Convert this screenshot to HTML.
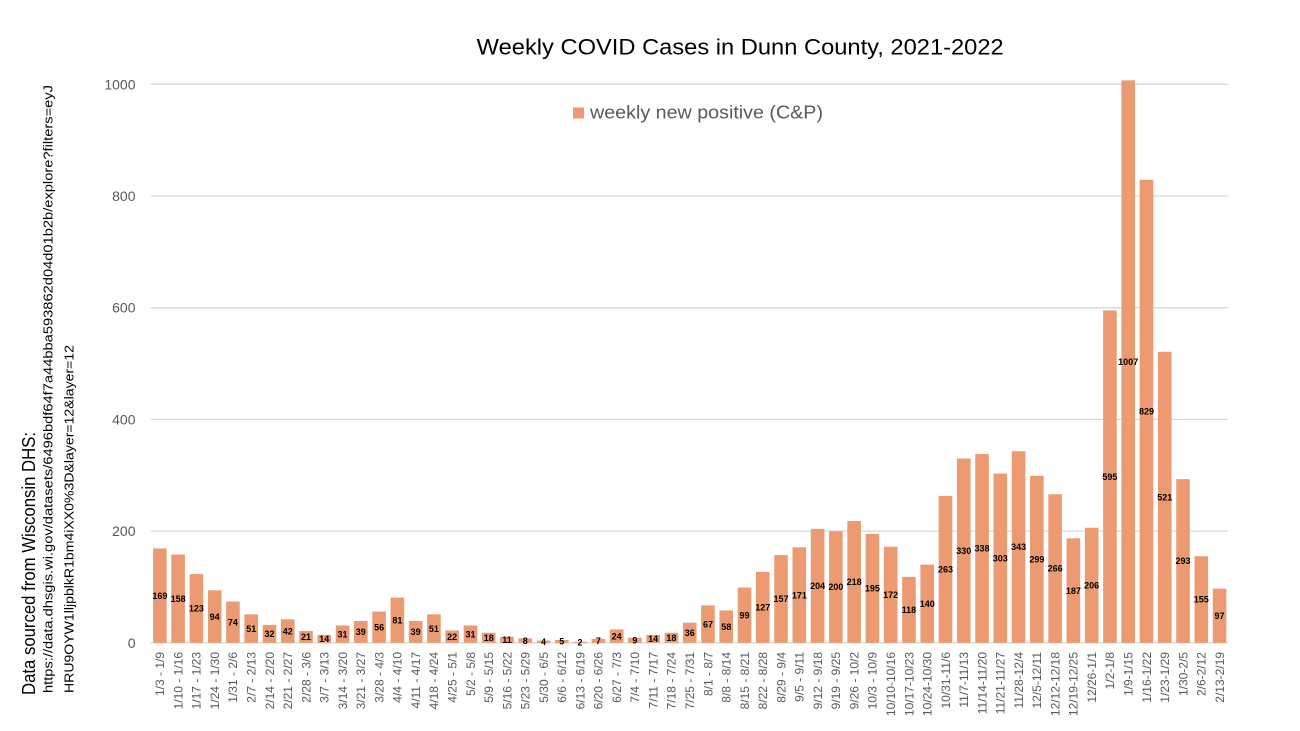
<!DOCTYPE html>
<html><head><meta charset="utf-8"><style>
html,body{margin:0;padding:0;background:#fff;}
svg{display:block;font-family:"Liberation Sans",sans-serif;}
.xl{font-size:12px;fill:#595959;text-anchor:end;}
.dl{font-size:9px;font-weight:bold;fill:#000;text-anchor:middle;}
.yl{font-size:14px;fill:#595959;text-anchor:end;}
</style></head><body>
<svg width="1300" height="731" viewBox="0 0 1300 731" xmlns="http://www.w3.org/2000/svg">
<rect width="1300" height="731" fill="#fff"/>
<text x="476.7" y="54.3" font-size="22" fill="#000" textLength="527" lengthAdjust="spacingAndGlyphs">Weekly COVID Cases in Dunn County, 2021-2022</text>
<g stroke="#D9D9D9" stroke-width="1.3">
<line x1="150.7" y1="84.3" x2="1228" y2="84.3"/>
<line x1="150.7" y1="196" x2="1228" y2="196"/>
<line x1="150.7" y1="307.7" x2="1228" y2="307.7"/>
<line x1="150.7" y1="419.4" x2="1228" y2="419.4"/>
<line x1="150.7" y1="531.1" x2="1228" y2="531.1"/>
<line x1="150.7" y1="642.8" x2="1228" y2="642.8"/>
</g>
<g class="yl">
<text x="135.5" y="89.3">1000</text>
<text x="135.5" y="201">800</text>
<text x="135.5" y="312.7">600</text>
<text x="135.5" y="424.4">400</text>
<text x="135.5" y="536.1">200</text>
<text x="135.5" y="647.8">0</text>
</g>
<rect x="573" y="107.5" width="11" height="11" fill="#EC9A72"/>
<text x="590" y="118.5" font-size="18" fill="#595959" textLength="233" lengthAdjust="spacingAndGlyphs">weekly new positive (C&amp;P)</text>
<g fill="#EC9A72">
<rect x="153.04" y="548.41" width="13.6" height="94.39"/>
<rect x="171.31" y="554.56" width="13.6" height="88.24"/>
<rect x="189.58" y="574.10" width="13.6" height="68.70"/>
<rect x="207.85" y="590.30" width="13.6" height="52.50"/>
<rect x="226.12" y="601.47" width="13.6" height="41.33"/>
<rect x="244.40" y="614.32" width="13.6" height="28.48"/>
<rect x="262.67" y="624.93" width="13.6" height="17.87"/>
<rect x="280.94" y="619.34" width="13.6" height="23.46"/>
<rect x="299.21" y="631.07" width="13.6" height="11.73"/>
<rect x="317.48" y="634.98" width="13.6" height="7.82"/>
<rect x="335.75" y="625.49" width="13.6" height="17.31"/>
<rect x="354.02" y="621.02" width="13.6" height="21.78"/>
<rect x="372.29" y="611.52" width="13.6" height="31.28"/>
<rect x="390.56" y="597.56" width="13.6" height="45.24"/>
<rect x="408.83" y="621.02" width="13.6" height="21.78"/>
<rect x="427.11" y="614.32" width="13.6" height="28.48"/>
<rect x="445.38" y="630.51" width="13.6" height="12.29"/>
<rect x="463.65" y="625.49" width="13.6" height="17.31"/>
<rect x="481.92" y="632.75" width="13.6" height="10.05"/>
<rect x="500.19" y="636.66" width="13.6" height="6.14"/>
<rect x="518.46" y="638.33" width="13.6" height="4.47"/>
<rect x="536.73" y="640.57" width="13.6" height="2.23"/>
<rect x="555.00" y="640.01" width="13.6" height="2.79"/>
<rect x="573.27" y="641.68" width="13.6" height="1.12"/>
<rect x="591.54" y="638.89" width="13.6" height="3.91"/>
<rect x="609.82" y="629.40" width="13.6" height="13.40"/>
<rect x="628.09" y="637.77" width="13.6" height="5.03"/>
<rect x="646.36" y="634.98" width="13.6" height="7.82"/>
<rect x="664.63" y="632.75" width="13.6" height="10.05"/>
<rect x="682.90" y="622.69" width="13.6" height="20.11"/>
<rect x="701.17" y="605.38" width="13.6" height="37.42"/>
<rect x="719.44" y="610.41" width="13.6" height="32.39"/>
<rect x="737.71" y="587.51" width="13.6" height="55.29"/>
<rect x="755.98" y="571.87" width="13.6" height="70.93"/>
<rect x="774.25" y="555.12" width="13.6" height="87.68"/>
<rect x="792.53" y="547.30" width="13.6" height="95.50"/>
<rect x="810.80" y="528.87" width="13.6" height="113.93"/>
<rect x="829.07" y="531.10" width="13.6" height="111.70"/>
<rect x="847.34" y="521.05" width="13.6" height="121.75"/>
<rect x="865.61" y="533.89" width="13.6" height="108.91"/>
<rect x="883.88" y="546.74" width="13.6" height="96.06"/>
<rect x="902.15" y="576.90" width="13.6" height="65.90"/>
<rect x="920.42" y="564.61" width="13.6" height="78.19"/>
<rect x="938.69" y="495.91" width="13.6" height="146.89"/>
<rect x="956.96" y="458.49" width="13.6" height="184.31"/>
<rect x="975.24" y="454.03" width="13.6" height="188.77"/>
<rect x="993.51" y="473.57" width="13.6" height="169.23"/>
<rect x="1011.78" y="451.23" width="13.6" height="191.57"/>
<rect x="1030.05" y="475.81" width="13.6" height="166.99"/>
<rect x="1048.32" y="494.24" width="13.6" height="148.56"/>
<rect x="1066.59" y="538.36" width="13.6" height="104.44"/>
<rect x="1084.86" y="527.75" width="13.6" height="115.05"/>
<rect x="1103.13" y="310.49" width="13.6" height="332.31"/>
<rect x="1121.40" y="80.39" width="13.6" height="562.41"/>
<rect x="1139.67" y="179.80" width="13.6" height="463.00"/>
<rect x="1157.95" y="351.82" width="13.6" height="290.98"/>
<rect x="1176.22" y="479.16" width="13.6" height="163.64"/>
<rect x="1194.49" y="556.23" width="13.6" height="86.57"/>
<rect x="1212.76" y="588.63" width="13.6" height="54.17"/>
</g>
<g class="dl">
<text x="159.84" y="598.8">169</text>
<text x="178.11" y="601.9">158</text>
<text x="196.38" y="611.7">123</text>
<text x="214.65" y="619.8">94</text>
<text x="232.92" y="625.3">74</text>
<text x="251.20" y="631.8">51</text>
<text x="269.47" y="637.1">32</text>
<text x="287.74" y="634.3">42</text>
<text x="306.01" y="640.1">21</text>
<text x="324.28" y="642.1">14</text>
<text x="342.55" y="637.4">31</text>
<text x="360.82" y="635.1">39</text>
<text x="379.09" y="630.4">56</text>
<text x="397.36" y="623.4">81</text>
<text x="415.63" y="635.1">39</text>
<text x="433.91" y="631.8">51</text>
<text x="452.18" y="639.9">22</text>
<text x="470.45" y="637.4">31</text>
<text x="488.72" y="641.0">18</text>
<text x="506.99" y="642.9">11</text>
<text x="525.26" y="643.8">8</text>
<text x="543.53" y="644.9">4</text>
<text x="561.80" y="644.6">5</text>
<text x="580.07" y="645.4">2</text>
<text x="598.34" y="644.1">7</text>
<text x="616.62" y="639.3">24</text>
<text x="634.89" y="643.5">9</text>
<text x="653.16" y="642.1">14</text>
<text x="671.43" y="641.0">18</text>
<text x="689.70" y="636.0">36</text>
<text x="707.97" y="627.3">67</text>
<text x="726.24" y="629.8">58</text>
<text x="744.51" y="618.4">99</text>
<text x="762.78" y="610.5">127</text>
<text x="781.05" y="602.2">157</text>
<text x="799.33" y="598.3">171</text>
<text x="817.60" y="589.0">204</text>
<text x="835.87" y="590.2">200</text>
<text x="854.14" y="585.1">218</text>
<text x="872.41" y="591.6">195</text>
<text x="890.68" y="598.0">172</text>
<text x="908.95" y="613.1">118</text>
<text x="927.22" y="606.9">140</text>
<text x="945.49" y="572.6">263</text>
<text x="963.76" y="553.9">330</text>
<text x="982.04" y="551.6">338</text>
<text x="1000.31" y="561.4">303</text>
<text x="1018.58" y="550.2">343</text>
<text x="1036.85" y="562.5">299</text>
<text x="1055.12" y="571.7">266</text>
<text x="1073.39" y="593.8">187</text>
<text x="1091.66" y="588.5">206</text>
<text x="1109.93" y="479.9">595</text>
<text x="1128.20" y="364.8">1007</text>
<text x="1146.47" y="414.5">829</text>
<text x="1164.75" y="500.5">521</text>
<text x="1183.02" y="564.2">293</text>
<text x="1201.29" y="602.7">155</text>
<text x="1219.56" y="618.9">97</text>
</g>
<g class="xl">
<text transform="translate(164.14,652) rotate(-90)">1/3 - 1/9</text>
<text transform="translate(182.41,652) rotate(-90)">1/10 - 1/16</text>
<text transform="translate(200.68,652) rotate(-90)">1/17 - 1/23</text>
<text transform="translate(218.95,652) rotate(-90)">1/24 - 1/30</text>
<text transform="translate(237.22,652) rotate(-90)">1/31 - 2/6</text>
<text transform="translate(255.50,652) rotate(-90)">2/7 - 2/13</text>
<text transform="translate(273.77,652) rotate(-90)">2/14 - 2/20</text>
<text transform="translate(292.04,652) rotate(-90)">2/21 - 2/27</text>
<text transform="translate(310.31,652) rotate(-90)">2/28 - 3/6</text>
<text transform="translate(328.58,652) rotate(-90)">3/7 - 3/13</text>
<text transform="translate(346.85,652) rotate(-90)">3/14 - 3/20</text>
<text transform="translate(365.12,652) rotate(-90)">3/21 - 3/27</text>
<text transform="translate(383.39,652) rotate(-90)">3/28 - 4/3</text>
<text transform="translate(401.66,652) rotate(-90)">4/4 - 4/10</text>
<text transform="translate(419.93,652) rotate(-90)">4/11 - 4/17</text>
<text transform="translate(438.21,652) rotate(-90)">4/18 - 4/24</text>
<text transform="translate(456.48,652) rotate(-90)">4/25 - 5/1</text>
<text transform="translate(474.75,652) rotate(-90)">5/2 - 5/8</text>
<text transform="translate(493.02,652) rotate(-90)">5/9 - 5/15</text>
<text transform="translate(511.29,652) rotate(-90)">5/16 - 5/22</text>
<text transform="translate(529.56,652) rotate(-90)">5/23 - 5/29</text>
<text transform="translate(547.83,652) rotate(-90)">5/30 - 6/5</text>
<text transform="translate(566.10,652) rotate(-90)">6/6 - 6/12</text>
<text transform="translate(584.37,652) rotate(-90)">6/13 - 6/19</text>
<text transform="translate(602.64,652) rotate(-90)">6/20 - 6/26</text>
<text transform="translate(620.92,652) rotate(-90)">6/27 - 7/3</text>
<text transform="translate(639.19,652) rotate(-90)">7/4 - 7/10</text>
<text transform="translate(657.46,652) rotate(-90)">7/11 - 7/17</text>
<text transform="translate(675.73,652) rotate(-90)">7/18 - 7/24</text>
<text transform="translate(694.00,652) rotate(-90)">7/25 - 7/31</text>
<text transform="translate(712.27,652) rotate(-90)">8/1 - 8/7</text>
<text transform="translate(730.54,652) rotate(-90)">8/8 - 8/14</text>
<text transform="translate(748.81,652) rotate(-90)">8/15 - 8/21</text>
<text transform="translate(767.08,652) rotate(-90)">8/22 - 8/28</text>
<text transform="translate(785.35,652) rotate(-90)">8/29 - 9/4</text>
<text transform="translate(803.63,652) rotate(-90)">9/5 - 9/11</text>
<text transform="translate(821.90,652) rotate(-90)">9/12 - 9/18</text>
<text transform="translate(840.17,652) rotate(-90)">9/19 - 9/25</text>
<text transform="translate(858.44,652) rotate(-90)">9/26 - 10/2</text>
<text transform="translate(876.71,652) rotate(-90)">10/3 - 10/9</text>
<text transform="translate(894.98,652) rotate(-90)">10/10-10/16</text>
<text transform="translate(913.25,652) rotate(-90)">10/17-10/23</text>
<text transform="translate(931.52,652) rotate(-90)">10/24-10/30</text>
<text transform="translate(949.79,652) rotate(-90)">10/31-11/6</text>
<text transform="translate(968.06,652) rotate(-90)">11/7-11/13</text>
<text transform="translate(986.34,652) rotate(-90)">11/14-11/20</text>
<text transform="translate(1004.61,652) rotate(-90)">11/21-11/27</text>
<text transform="translate(1022.88,652) rotate(-90)">11/28-12/4</text>
<text transform="translate(1041.15,652) rotate(-90)">12/5-12/11</text>
<text transform="translate(1059.42,652) rotate(-90)">12/12-12/18</text>
<text transform="translate(1077.69,652) rotate(-90)">12/19-12/25</text>
<text transform="translate(1095.96,652) rotate(-90)">12/26-1/1</text>
<text transform="translate(1114.23,652) rotate(-90)">1/2-1/8</text>
<text transform="translate(1132.50,652) rotate(-90)">1/9-1/15</text>
<text transform="translate(1150.77,652) rotate(-90)">1/16-1/22</text>
<text transform="translate(1169.05,652) rotate(-90)">1/23-1/29</text>
<text transform="translate(1187.32,652) rotate(-90)">1/30-2/5</text>
<text transform="translate(1205.59,652) rotate(-90)">2/6-2/12</text>
<text transform="translate(1223.86,652) rotate(-90)">2/13-2/19</text>
</g>
<g fill="#000">
<text transform="translate(35,695) rotate(-90)" font-size="18" textLength="263" lengthAdjust="spacingAndGlyphs">Data sourced from Wisconsin DHS:</text>
<text transform="translate(52.5,693) rotate(-90)" font-size="13" textLength="608" lengthAdjust="spacingAndGlyphs">https://data.dhsgis.wi.gov/datasets/6496bdf64f7a44bba593862d04d01b2b/explore?filters=eyJ</text>
<text transform="translate(73.5,693) rotate(-90)" font-size="13" textLength="348" lengthAdjust="spacingAndGlyphs">HRU9OYW1lljpblkR1bm4iXX0%3D&amp;layer=12&amp;layer=12</text>
</g>
</svg>
</body></html>
